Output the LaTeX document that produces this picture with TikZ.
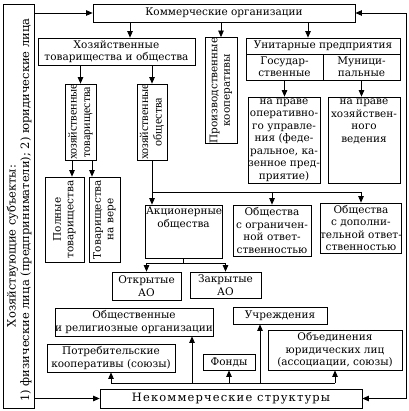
\documentclass[tikz,border=0pt]{standalone}
\usepackage{fontspec}
\setmainfont{DejaVu Serif}
\newfontfamily\narrowfont{Liberation Serif}
\usetikzlibrary{arrows.meta,calc}
\begin{document}
\begin{tikzpicture}[x=1pt,y=-1pt,
  box/.style={draw, line width=0.75pt, inner sep=0pt, align=center, font=\fontsize{10.5}{12.5}\selectfont},
  vbox/.style={box, rotate=90},
  nbox/.style={vbox, font=\narrowfont\fontsize{12}{13.5}\selectfont},
  arr/.style={line width=0.75pt, -{Triangle[length=6.5pt,width=5.5pt]}},
  ln/.style={line width=0.75pt},
  lbl/.style={inner sep=0pt, rotate=90, font=\fontsize{11.5}{13}\selectfont}]
\useasboundingbox (0,0) rectangle (408,411);
% left box
\node[box, minimum width=31pt, minimum height=404pt] (left) at (18.5,206) {};
\node[lbl] (lt1) at (12.5,246) {Хозяйствующие субъекты:};
\node[lbl] (lt2) at (26,210) {1) физические лица (предприниматели); 2) юридические лица};
% top
\node[box, minimum width=262pt, minimum height=18pt] (komm) at (224,13) {Коммерческие организации};
\node[box, minimum width=157pt, minimum height=27pt] (hoz) at (116.5,51.5) {Хозяйственные\\товарищества и общества};
\node[nbox, minimum width=76pt, minimum height=31pt] (hozt) at (80.5,122) {хозяйственные\\товарищества};
\node[nbox, minimum width=76pt, minimum height=30pt] (hozo) at (152,122) {хозяйственные\\общества};
\node[vbox, minimum width=85pt, minimum height=39pt] (poln) at (64.5,219.5) {Полные\\товарищества};
\node[vbox, minimum width=85pt, minimum height=31pt] (vera) at (104.5,219.5) {Товарищества\\на вере};
\node[vbox, minimum width=105pt, minimum height=32pt] (proizv) at (221,90.5) {Производственные\\кооперативы};
\node[box, minimum width=154pt, minimum height=16pt] (unit) at (323,46) {Унитарные предприятия};
\node[box, minimum width=77pt, minimum height=26pt] (gos) at (284.5,67) {Государ-\\ственные};
\node[box, minimum width=77pt, minimum height=26pt] (mun) at (361.5,67) {Муници-\\пальные};
\node[box, minimum width=68pt, minimum height=86pt] (oper) at (284,140) {на праве\\оперативно-\\го управле-\\ния (феде-\\ральное, ка-\\зенное пред-\\приятие)};
\node[box, minimum width=72pt, minimum height=86pt] (hozved) at (364,140) {\parbox[c][82pt][t]{70pt}{\centering на праве\\хозяйствен-\\ного ведения}};
% middle
\node[box, minimum width=77pt, minimum height=53pt] (akc) at (183.5,231.5) {\parbox[c][49pt][t]{75pt}{\centering Акционерные\\общества}};
\node[box, minimum width=78pt, minimum height=51pt] (ooo) at (272,230.5) {Общества\\с ограничен-\\ной ответ-\\ственностью};
\node[box, minimum width=78pt, minimum height=50pt] (odo) at (361,228) {Общества\\с дополни-\\тельной ответ-\\ственностью};
\node[box, minimum width=69pt, minimum height=28pt] (otkr) at (146.5,286) {Открытые\\АО};
\node[box, minimum width=71pt, minimum height=26pt] (zakr) at (225.5,285) {Закрытые\\АО};
% bottom
\node[box, minimum width=154pt, minimum height=28pt] (obsh) at (134,322) {Общественные\\и религиозные организации};
\node[box, minimum width=94pt, minimum height=17pt] (uchr) at (280,315.5) {Учреждения};
\node[box, minimum width=128pt, minimum height=28pt] (potr) at (111,358) {Потребительские\\кооперативы (союзы)};
\node[box, minimum width=52pt, minimum height=16pt] (fond) at (229,362) {Фонды};
\node[box, minimum width=134pt, minimum height=40pt] (obed) at (335,350) {Объединения\\юридических лиц\\(ассоциации, союзы)};
\node[box, minimum width=262pt, minimum height=19pt, font=\fontsize{11.5}{13}\selectfont\addfontfeatures{LetterSpace=10}] (nekom) at (231,398.5) {Некоммерческие структуры};
% connectors
\draw[arr] (left.east |- komm.west) -- (komm.west);
\draw[arr] (left.east |- nekom.west) -- (nekom.west);
\coordinate (rt) at (406,13);
\coordinate (rb) at (406,398.5);
\draw[ln] (rb) -- (rt);
\draw[arr] (rt) -- (komm.east);
\draw[arr] (rb) -- (nekom.east);
\draw[arr] (komm.south -| 130,0) -- (hoz.north -| 130,0);
\draw[arr] (komm.south -| proizv.east) -- (proizv.east);
\draw[arr] (komm.south -| 308,0) -- (unit.north -| 308,0);
\draw[arr] (hoz.south -| hozt.east) -- (hozt.east);
\draw[arr] (hoz.south -| hozo.east) -- (hozo.east);
\draw[arr] (hozt.west -| 72,0) -- (poln.east -| 72,0);
\draw[arr] (hozt.west -| 92,0) -- (vera.east -| 92,0);
\draw[arr] (gos.south) -- (oper.north -| gos.south);
\draw[arr] (mun.south) -- (hozved.north -| mun.south);
\coordinate (j1) at (152,192);
\draw[arr] (hozo.west) -- (akc.north -| hozo.west);
\draw[ln] (j1) -- (odo.north |- j1);
\draw[arr] (ooo.north |- j1) -- (ooo.north);
\draw[arr] (odo.north |- j1) -- (odo.north);
\coordinate (j3) at ($(akc.south)+(0,5)$);
\draw[ln] (akc.south) -- (j3);
\draw[ln] (otkr.north |- j3) -- (zakr.north |- j3);
\draw[arr] (otkr.north |- j3) -- (otkr.north);
\draw[arr] (zakr.north |- j3) -- (zakr.north);
\coordinate (bus) at (0,383);
\draw[ln] (potr.south |- bus) -- (obed.south |- bus);
\draw[arr] (potr.south |- bus) -- (potr.south);
\draw[arr] (192,383) -- (obsh.south -| 192,0);
\draw[arr] (fond.south |- bus) -- (fond.south);
\draw[arr] (260,383) -- (uchr.south -| 260,0);
\draw[arr] (obed.south |- bus) -- (obed.south);
\end{tikzpicture}
\end{document}
